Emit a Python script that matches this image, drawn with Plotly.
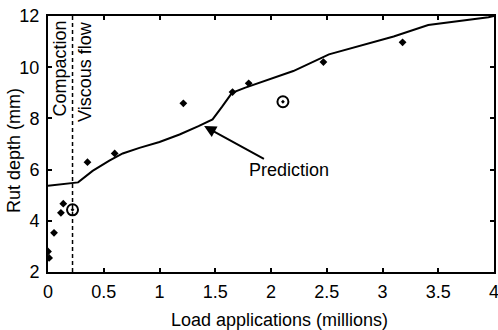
import plotly.graph_objects as go

# Measured rut depth points
meas_x = [0.0, 0.01, 0.054, 0.116, 0.137, 0.354, 0.598, 1.214, 1.655, 1.80, 2.47, 3.18]
meas_y = [2.8, 2.55, 3.53, 4.31, 4.67, 6.29, 6.63, 8.59, 9.03, 9.37, 10.2, 10.97]

# Circled points
circ_x = [0.22, 2.107]
circ_y = [4.43, 8.65]

# Prediction curve
pred_x = [0.0, 0.22, 0.27, 0.4, 0.55, 0.67, 0.82, 1.0, 1.18, 1.35, 1.476, 1.56, 1.65, 1.77, 1.98, 2.2, 2.52, 2.8, 3.1, 3.41, 3.7, 3.95, 4.0]
pred_y = [5.37, 5.47, 5.5, 5.95, 6.35, 6.63, 6.85, 7.08, 7.37, 7.7, 7.96, 8.45, 9.0, 9.2, 9.53, 9.85, 10.5, 10.85, 11.2, 11.65, 11.8, 11.95, 12.0]

boundary_x = 0.22
x_ticks = [0, 0.5, 1, 1.5, 2, 2.5, 3, 3.5, 4]
y_ticks = [2, 4, 6, 8, 10, 12]

FS = 18
FONT = dict(size=FS, color="black")

fig = go.Figure()
fig.add_trace(go.Scatter(x=pred_x, y=pred_y, mode="lines",
                         line=dict(color="black", width=2), showlegend=False, cliponaxis=False))
fig.add_trace(go.Scatter(x=[boundary_x, boundary_x], y=[2, 12], mode="lines",
                         line=dict(color="black", width=1.5, dash="4px,3px"), showlegend=False))
fig.add_trace(go.Scatter(x=meas_x, y=meas_y, mode="markers",
                         marker=dict(symbol="diamond", size=6, color="black"), showlegend=False))
fig.add_trace(go.Scatter(x=circ_x, y=circ_y, mode="markers",
                         marker=dict(symbol="circle-open-dot", size=11, color="black",
                                     line=dict(width=2)), showlegend=False))

fig.add_annotation(x=1.40, y=7.70, ax=1.95, ay=6.39, xref="x", yref="y", axref="x", ayref="y",
                   text="", showarrow=True, arrowhead=2, arrowsize=1.2, arrowwidth=2, arrowcolor="black")
fig.add_annotation(x=2.16, y=5.97, text="Prediction", showarrow=False, font=FONT)
fig.add_annotation(x=boundary_x, y=12, xref="x", yref="y", text="Compaction", textangle=-90,
                   showarrow=False, xanchor="center", yanchor="top", yshift=-3, xshift=-13,
                   font=FONT)
fig.add_annotation(x=boundary_x, y=12, xref="x", yref="y", text="Viscous flow", textangle=-90,
                   showarrow=False, xanchor="center", yanchor="top", yshift=-3, xshift=12,
                   font=FONT)

# Axis titles
fig.add_annotation(x=-0.076, y=0.473, xref="paper", yref="paper", text="Rut depth (mm)",
                   textangle=-90, showarrow=False, font=FONT, xanchor="center", yanchor="middle")
fig.add_annotation(x=0.519, y=-0.1875, xref="paper", yref="paper", text="Load applications (millions)",
                   showarrow=False, font=FONT, xanchor="center", yanchor="middle")

axis_common = dict(showgrid=False, zeroline=False, showline=True, linecolor="black", linewidth=2,
                   mirror="allticks", ticks="inside", ticklen=4, tickcolor="black", tickwidth=1.5,
                   tickfont=FONT, automargin=False, ticklabeloverflow="allow")
fig.update_xaxes(range=[0, 4], tickvals=x_ticks, ticktext=[str(v) for v in x_ticks],
                 ticklabelstandoff=2, **axis_common)
fig.update_yaxes(range=[2, 12], tickvals=y_ticks, ticklabelstandoff=3, **axis_common)

fig.update_layout(width=498, height=330, margin=dict(l=48, r=4, t=16, b=58),
                  plot_bgcolor="white", paper_bgcolor="white",
                  font=dict(family="Liberation Sans, Arial, sans-serif", color="black"))
fig.write_html("out.html", config={"displayModeBar": False},
               post_script="document.body.style.margin='0';document.body.style.overflow='hidden';")
